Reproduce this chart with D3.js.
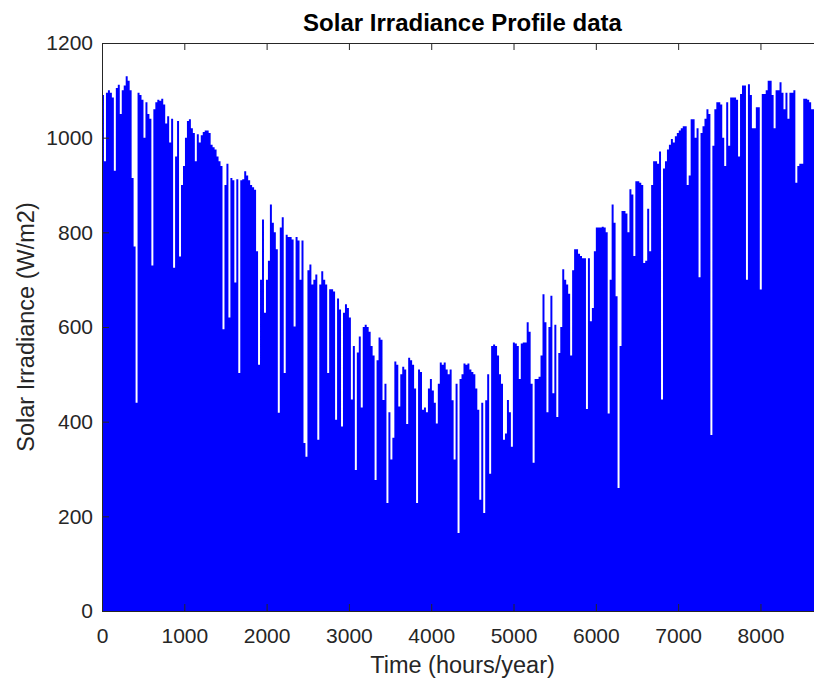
<!DOCTYPE html>
<html>
<head>
<meta charset="utf-8">
<script src="https://cdn.jsdelivr.net/npm/d3@7"></script>
<style>
  body { margin: 0; background: #fff; }
  text { font-family: "Liberation Sans", Arial, Helvetica, sans-serif; }
</style>
</head>
<body>
<div id="chart"></div>
<script>
const SIZE = { width: 814, height: 684 }
const MARGIN = { top: 43, left: 102, plotWidth: 721, plotHeight: 568 }

const TITLE = 'Solar Irradiance Profile data'
const X_LABEL = 'Time (hours/year)'
const Y_LABEL = 'Solar Irradiance (W/m2)'

const TOTAL_HOURS = 8760
const HOURS_PER_DAY = 24

const X_TICKS = [0, 1000, 2000, 3000, 4000, 5000, 6000, 7000, 8000]
const Y_TICKS = [0, 200, 400, 600, 800, 1000, 1200]

// daily peak irradiance (W/m2), one per day
const DAILY_PEAK = [
  1090, 950, 1095, 1100, 1095, 1085, 930, 1105, 1112, 1050,
  1100, 1110, 1130, 1120, 1100, 915, 770, 440, 1095, 1090,
  1080, 1000, 1075, 1050, 1040, 730, 1060, 1075, 1080, 1078,
  1082, 1070, 1030, 1045, 990, 1040, 725, 960, 1035, 749,
  900, 940, 1000, 1035, 1039, 1020, 1010, 950, 1007, 990,
  1005, 1012, 1015, 1015, 1010, 985, 980, 975, 960, 950,
  940, 595, 900, 945, 620, 915, 910, 694, 912, 503,
  910, 912, 929, 920, 910, 900, 895, 890, 760, 520,
  700, 827, 630, 700, 740, 859, 820, 800, 764, 419,
  810, 832, 503, 795, 790, 790, 785, 601, 790, 783,
  700, 783, 355, 326, 720, 732, 690, 700, 711, 362,
  690, 718, 700, 690, 503, 680, 680, 675, 404, 660,
  637, 390, 630, 648, 640, 620, 447, 560, 298, 546,
  580, 430, 600, 605, 600, 590, 560, 540, 277, 530,
  578, 573, 446, 480, 228, 420, 320, 366, 527, 520,
  432, 500, 516, 510, 395, 535, 530, 520, 470, 228,
  510, 505, 425, 430, 420, 470, 490, 466, 440, 396,
  480, 525, 520, 525, 510, 500, 510, 445, 320, 480,
  165, 490, 500, 523, 520, 523, 510, 505, 500, 470,
  425, 235, 440, 207, 445, 500, 290, 560, 563, 560,
  540, 500, 480, 362, 375, 446, 420, 347, 567, 565,
  560, 490, 565, 567, 567, 610, 590, 480, 313, 490,
  490, 495, 540, 669, 610, 420, 600, 666, 460, 605,
  410, 545, 600, 722, 700, 690, 670, 540, 720, 764,
  764, 755, 750, 745, 745, 427, 745, 612, 640, 760,
  810, 810, 810, 812, 810, 800, 417, 700, 859, 820,
  665, 260, 560, 845, 845, 840, 800, 891, 880, 750,
  908, 908, 905, 900, 735, 740, 850, 760, 900, 950,
  950, 945, 971, 447, 935, 950, 975, 985, 997, 990,
  1003, 1010, 1015, 1020, 1024, 1024, 900, 920, 1039, 1039,
  1000, 1020, 705, 1010, 1024, 1040, 1060, 1050, 372, 983,
  1060, 1075, 1075, 1070, 1000, 940, 1075, 983, 1085, 1085,
  1085, 1080, 960, 1092, 1110, 1110, 700, 1113, 1090, 1020,
  1020, 1064, 1064, 679, 1092, 1092, 1100, 1120, 1120, 1090,
  1020, 1100, 1100, 1117, 1095, 1060, 1095, 1040, 1095, 1095,
  1100, 905, 940, 945, 945, 1082, 1082, 1080, 1075, 1060,
  1060, 1080, 1075, 1085, 1080
]

const AXIS_COLOR = '#262626'
const FILL = '#0000ff'

function defineSVG (params) {
  const { selector, size } = params
  return d3.select(selector)
    .append('svg')
    .attr('width', size.width)
    .attr('height', size.height)
    .style('display', 'block')
}

function scales () {
  const x = d3.scaleLinear()
    .domain([0, TOTAL_HOURS])
    .range([MARGIN.left, MARGIN.left + MARGIN.plotWidth])
  const y = d3.scaleLinear()
    .domain([0, 1200])
    .range([MARGIN.top + MARGIN.plotHeight, MARGIN.top])
  return { x, y }
}

function drawProfile (params) {
  const { container, x, y } = params
  const points = DAILY_PEAK.map((v, i) => ({ hour: i * HOURS_PER_DAY, value: v }))
  points.push({ hour: TOTAL_HOURS, value: DAILY_PEAK[DAILY_PEAK.length - 1] })

  const area = d3.area()
    .curve(d3.curveStepAfter)
    .x(d => x(d.hour))
    .y0(y(0))
    .y1(d => y(d.value))

  container.append('path')
    .datum(points)
    .attr('fill', FILL)
    .attr('d', area)
}

function drawAxes (params) {
  const { container, x, y } = params
  const bottom = MARGIN.top + MARGIN.plotHeight
  const right = MARGIN.left + MARGIN.plotWidth
  const fmt = d3.format('d')

  const xAxis = container.append('g')
    .attr('transform', `translate(0,${bottom})`)
    .call(d3.axisBottom(x).tickValues(X_TICKS).tickFormat(fmt).tickSizeInner(-7).tickSizeOuter(0).tickPadding(17))
  const xTop = container.append('g')
    .attr('transform', `translate(0,${MARGIN.top})`)
    .call(d3.axisTop(x).tickValues(X_TICKS).tickSizeInner(-7).tickSizeOuter(0).tickFormat(''))
  const yAxis = container.append('g')
    .attr('transform', `translate(${MARGIN.left},0)`)
    .call(d3.axisLeft(y).tickValues(Y_TICKS).tickFormat(fmt).tickSizeInner(-7).tickSizeOuter(0).tickPadding(9))
  const yRight = container.append('g')
    .attr('transform', `translate(${right},0)`)
    .call(d3.axisRight(y).tickValues(Y_TICKS).tickSizeInner(-7).tickSizeOuter(0).tickFormat(''))

  ;[xAxis, xTop, yAxis, yRight].forEach(g => {
    g.select('.domain').remove()
    g.selectAll('line').attr('stroke', AXIS_COLOR)
    g.selectAll('text')
      .attr('fill', AXIS_COLOR)
      .style('font-size', '21px')
  })

  container.append('rect')
    .attr('x', MARGIN.left + 0.5)
    .attr('y', MARGIN.top + 0.5)
    .attr('width', MARGIN.plotWidth)
    .attr('height', MARGIN.plotHeight)
    .attr('fill', 'none')
    .attr('stroke', AXIS_COLOR)
    .attr('stroke-width', 1)
}

function drawLabels (container) {
  const cx = MARGIN.left + MARGIN.plotWidth / 2
  const cy = MARGIN.top + MARGIN.plotHeight / 2

  container.append('text')
    .attr('x', cx)
    .attr('y', 31)
    .attr('text-anchor', 'middle')
    .style('font-size', '24px')
    .style('font-weight', 'bold')
    .attr('fill', '#000')
    .text(TITLE)

  container.append('text')
    .attr('x', cx)
    .attr('y', 673)
    .attr('text-anchor', 'middle')
    .style('font-size', '23.5px')
    .attr('fill', AXIS_COLOR)
    .text(X_LABEL)

  container.append('text')
    .attr('transform', `translate(34,${cy}) rotate(-90)`)
    .attr('text-anchor', 'middle')
    .style('font-size', '23.5px')
    .attr('fill', AXIS_COLOR)
    .text(Y_LABEL)
}

const svg = defineSVG({ selector: '#chart', size: SIZE })
const { x, y } = scales()
drawProfile({ container: svg, x, y })
drawAxes({ container: svg, x, y })
drawLabels(svg)
</script>
</body>
</html>
